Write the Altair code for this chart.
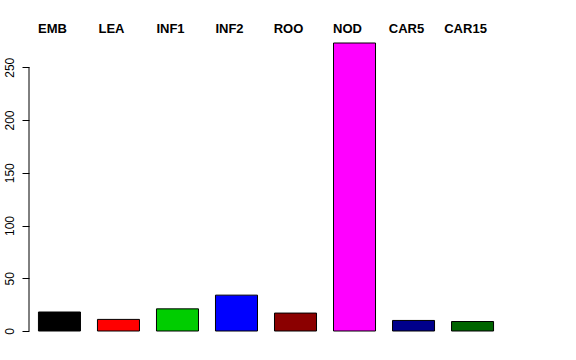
import altair as alt
import pandas as pd

categories = ["EMB", "LEA", "INF1", "INF2", "ROO", "NOD", "CAR5", "CAR15"]
values = [18, 11, 21, 34, 17, 273, 10, 9]
colors = ["#000000", "#FF0000", "#00CD00", "#0000FF", "#8B0000", "#FF00FF", "#00008B", "#006400"]
y_ticks = [0, 50, 100, 150, 200, 250]

df = pd.DataFrame({"cat": categories, "val": values})

FONT = "Liberation Sans"

x = alt.X("cat:N", sort=categories, axis=None,
          scale=alt.Scale(paddingInner=0.288, paddingOuter=0.16))
yscale = alt.Scale(domain=[0, 273], nice=False, zero=True)

bars = alt.Chart(df).mark_bar(stroke="black", strokeWidth=1, opacity=1, cornerRadius=0).encode(
    x=x,
    y=alt.Y("val:Q", scale=yscale,
            axis=alt.Axis(values=y_ticks, labelAngle=270, tickSize=7, domain=False,
                          grid=False, title=None, labelFontSize=12, labelFont=FONT,
                          labelColor="black", tickColor="black", labelPadding=6,
                          labelAlign="center", labelBaseline="bottom")),
    color=alt.Color("cat:N", scale=alt.Scale(domain=categories, range=colors), legend=None),
)

axis_line = alt.Chart(pd.DataFrame({"a": [0], "b": [250]})).mark_rule(color="black", strokeWidth=1).encode(
    x=alt.value(0),
    y=alt.Y("a:Q", scale=yscale),
    y2="b:Q",
)

labels = alt.Chart(df).mark_text(font=FONT, fontWeight="bold", fontSize=13, dx=-7,
                                 baseline="alphabetic", align="center", color="black").encode(
    x=x,
    y=alt.value(-10),
    text="cat:N",
)

chart = alt.layer(bars, axis_line, labels).properties(
    width=474, height=288,
    autosize=alt.AutoSizeParams(type="none"),
    padding={"left": 29, "top": 43, "right": 73, "bottom": 29},
    background="white",
).configure_view(stroke=None, strokeWidth=0)

chart.save("out.html", embed_options={"renderer": "svg", "actions": False})
